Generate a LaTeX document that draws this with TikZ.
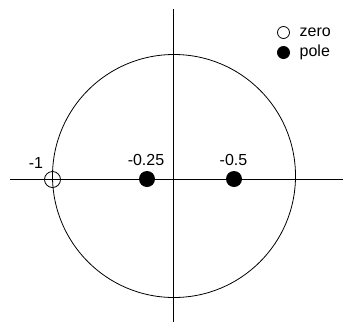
\documentclass[tikz,border=0pt]{standalone}
\usepackage{fontspec}
\setmainfont{Liberation Sans}
\begin{document}
\begin{tikzpicture}[x=1pt,y=-1pt,
  axis/.style={line width=0.8pt},
  zeromark/.style={circle,draw,line width=0.8pt,inner sep=0pt,minimum size=16pt},
  polemark/.style={circle,fill=black,inner sep=0pt,minimum size=16pt},
  legzero/.style={circle,draw,line width=0.8pt,inner sep=0pt,minimum size=12pt},
  legpole/.style={circle,fill=black,inner sep=0pt,minimum size=13pt},
  lbl/.style={font=\fontsize{16}{19}\selectfont,inner sep=0pt,anchor=base},
  leg/.style={font=\fontsize{16}{19}\selectfont,inner sep=0pt,anchor=base west}]
\useasboundingbox (0,0) rectangle (343,322);
% axes
\coordinate (xl) at (10,179);
\coordinate (xr) at (343,179);
\coordinate (yt) at (173.5,9);
\coordinate (yb) at (173.5,322);
\draw[axis] (xl) -- (xr);
\draw[axis] (yt) -- (yb);
% unit circle
\coordinate (o) at (174,176);
\draw[axis] (o) circle[radius=121.5];
% zero and poles
\node[zeromark] (z1) at (52.5,179.5) {};
\node[polemark] (p1) at (147,179) {};
\node[polemark] (p2) at (234,179) {};
\node[lbl] (lz1) at (36,168) {-1};
\node[lbl] (lp1) at (146,165.5) {-0.25};
\node[lbl] (lp2) at (233.5,165.5) {-0.5};
% legend
\node[legzero] (lgz) at (283.5,32.5) {};
\node[legpole] (lgp) at (283.5,52.5) {};
\node[leg] (tz) at (299.5,36.5) {zero};
\node[leg] (tp) at (299.5,56) {pole};
\end{tikzpicture}
\end{document}
